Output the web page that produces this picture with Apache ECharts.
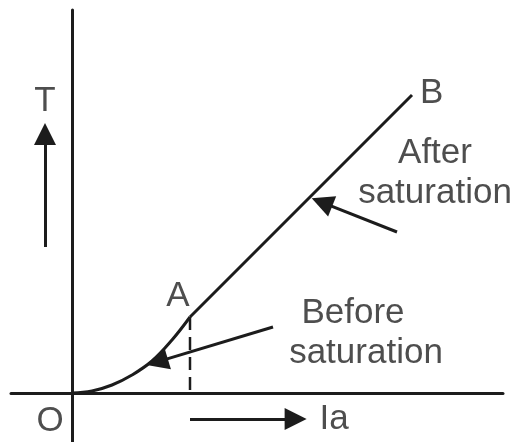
<!DOCTYPE html>
<html><head><meta charset="utf-8">
<script src="https://cdn.jsdelivr.net/npm/echarts@6/dist/echarts.min.js"></script>
<style>html,body{margin:0;padding:0;background:#fff}#c{width:517px;height:442px}</style>
</head><body><div id="c"></div>
<script>
// Curve O -> A (before saturation)
const curveX = [0, 1, 2, 3, 4, 5, 5.9];
const curveY = [0, 0.1, 0.4, 0.9, 1.6, 2.65, 3.8];
// Straight part A -> B (after saturation)
const pointA = [5.9, 3.8];
const pointB = [17, 14.9];
// Text labels (anchored in data units)
const labelNames = ['T', 'O', 'Ia', 'A', 'B', 'After', 'saturation', 'Before', 'saturation'];
const labelX = [-1.35, -1.1, 13.1, 5.3, 17.98, 18.15, 18.15, 14.05, 14.7];
const labelY = [14.6, -1.4, -1.3, 4.85, 15.0, 12.0, 10.0, 4.0, 2.0];
// Arrows: tail and tip
const arrowFrom = [[-1.35, 7.3], [5.9, -1.3], [16.25, 8.05], [10.05, 3.3]];
const arrowTo = [[-1.35, 13.5], [11.73, -1.3], [11.985, 9.735], [3.735, 1.4]];

const INK = '#1c1c1c';
const FONT = '"Liberation Sans", Arial, Helvetica, sans-serif';
const HEAD = 22;      // arrowhead size in px
const UNIT_PX = 20;   // px per data unit (both axes)

const curveData = curveX.map((x, i) => [x, curveY[i]]);
const arrowData = arrowFrom.map((f, i) => {
  const t = arrowTo[i];
  const dx = t[0] - f[0], dy = t[1] - f[1];
  const len = Math.hypot(dx, dy);
  const back = (HEAD / 2) / UNIT_PX;
  return { coords: [f, [t[0] - dx / len * back, t[1] - dy / len * back]] };
});
const labelData = labelNames.map((n, i) => ({ value: [labelX[i], labelY[i]], name: n }));

const chart = echarts.init(document.getElementById('c'), null, { renderer: 'canvas' });
chart.setOption({
  animation: false,
  backgroundColor: '#ffffff',
  grid: { left: 11, top: 10, width: 492, height: 432, containLabel: false },
  xAxis: {
    type: 'value', min: -3.05, max: 21.55,
    axisLine: { show: true, onZero: true, lineStyle: { color: INK, width: 3 } },
    axisTick: { show: false }, axisLabel: { show: false }, splitLine: { show: false }
  },
  yAxis: {
    type: 'value', min: -2.45, max: 19.15,
    axisLine: { show: true, onZero: true, lineStyle: { color: INK, width: 3 } },
    axisTick: { show: false }, axisLabel: { show: false }, splitLine: { show: false }
  },
  series: [
    {
      type: 'line', data: curveData, smooth: 0.4, showSymbol: false, symbol: 'none',
      lineStyle: { color: INK, width: 3 }, z: 3
    },
    {
      type: 'line', data: [pointA, pointB], showSymbol: false, symbol: 'none',
      lineStyle: { color: INK, width: 3 }, z: 3
    },
    {
      type: 'line', data: [pointA, [pointA[0], 0]], showSymbol: false, symbol: 'none',
      lineStyle: { color: INK, width: 2.5, type: [13, 7] }, z: 2
    },
    {
      type: 'lines', coordinateSystem: 'cartesian2d',
      symbol: ['none', 'triangle'], symbolSize: HEAD,
      lineStyle: { color: INK, width: 3, opacity: 1, curveness: 0 },
      data: arrowData, z: 4
    },
    {
      type: 'scatter', data: labelData, symbolSize: 1,
      itemStyle: { color: 'rgba(0,0,0,0)' },
      label: {
        show: true, position: 'inside', formatter: p => p.name,
        fontSize: 35, fontFamily: FONT, color: '#222', align: 'center', verticalAlign: 'middle'
      },
      z: 5
    }
  ]
});
</script>
</body></html>
